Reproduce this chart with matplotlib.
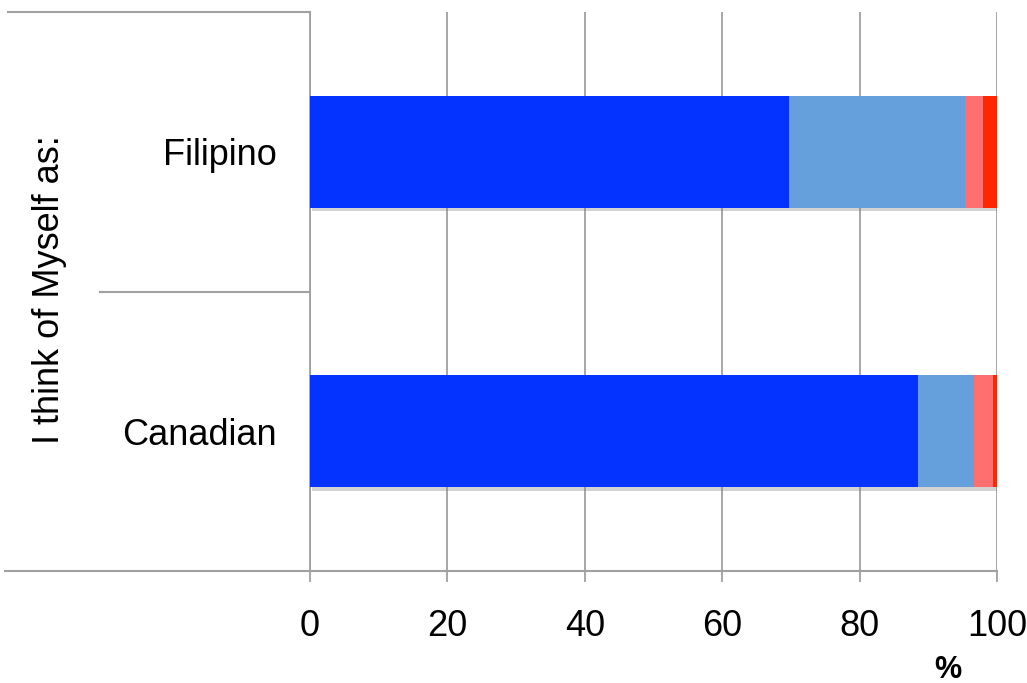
import numpy as np
import matplotlib
matplotlib.use('Agg')
import matplotlib.pyplot as plt
import matplotlib.patheffects as pe
from matplotlib.transforms import blended_transform_factory

plt.rcParams['font.family'] = ['Liberation Sans', 'DejaVu Sans']

categories = ['Canadian', 'Filipino']
seg1 = [88.5, 69.7]
seg2 = [8.2, 25.6]
seg3 = [2.7, 2.7]
seg4 = [0.6, 2.0]
seg_colors = ['#0433FF', '#65A0DC', '#FF6F6F', '#FF2600']
xticks = [0, 20, 40, 60, 80, 100]

grid_col = '#A0A0A0'

fig = plt.figure(figsize=(10.27, 6.83), dpi=100)
ax = fig.add_axes([310/1027, 1 - 571/683, 687/1027, 559/683])

ypos = np.arange(len(categories))
left = np.zeros(len(categories))
shadow = [pe.SimplePatchShadow(offset=(1.5, -2.5), shadow_rgbFace='#808080', alpha=0.35), pe.Normal()]
for vals, col in zip([seg1, seg2, seg3, seg4], seg_colors):
    bars = ax.barh(ypos, vals, left=left, height=0.40, color=col, linewidth=0, zorder=3)
    for b in bars:
        b.set_path_effects(shadow)
    left = left + np.array(vals)

ax.set_xlim(0, 100)
ax.set_ylim(-0.5, 1.5)
ax.set_xticks(xticks)
ax.set_yticks(ypos)
ax.set_yticklabels(categories)

for s in ['top', 'right', 'bottom']:
    ax.spines[s].set_visible(False)
ax.spines['left'].set_color(grid_col)
ax.spines['left'].set_linewidth(1.3)

for x in xticks:
    ax.axvline(x, color=grid_col, lw=1.3, zorder=1)

ax.tick_params(axis='x', length=8, width=1.3, color=grid_col, labelsize=26, pad=19)
ax.tick_params(axis='y', length=0, labelsize=26, pad=24)

# category separators reaching into the label area
tr = blended_transform_factory(ax.transAxes, ax.transData)
ax.plot([-0.4396, 0], [1.5, 1.5], color=grid_col, lw=1.5, transform=tr, clip_on=False)
ax.plot([-0.3057, 0], [0.5, 0.5], color=grid_col, lw=1.5, transform=tr, clip_on=False)
ax.plot([-0.444, 1], [-0.5, -0.5], color=grid_col, lw=1.5, transform=tr, clip_on=False, zorder=4)

fig.text(50/1027, 1 - 290/683, 'I think of Myself as:', rotation=90, ha='center', va='center', fontsize=26)
fig.text(948/1027, 1 - 678/683, '%', ha='center', va='baseline', fontsize=22, fontweight='bold')

fig.savefig('out.png', dpi=100)
